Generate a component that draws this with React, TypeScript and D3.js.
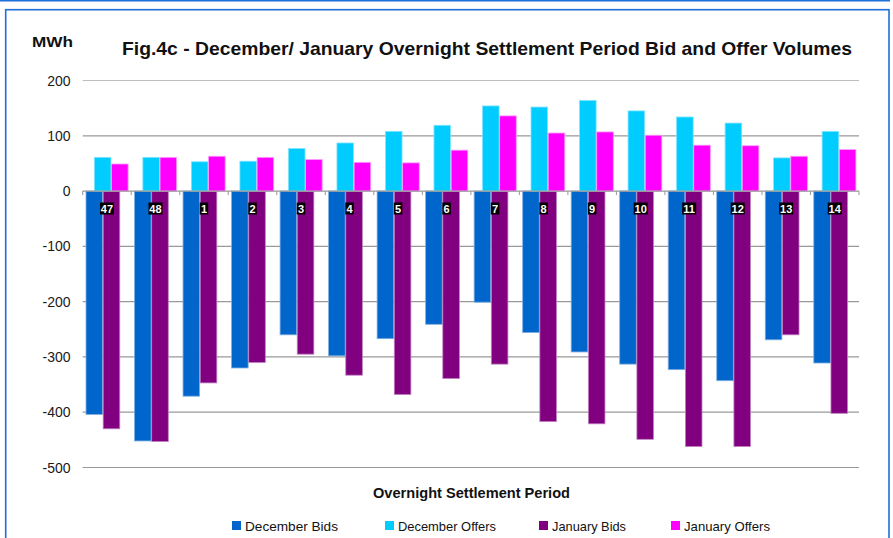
import React from "react";
import * as d3 from "d3";

const periods = ["47", "48", "1", "2", "3", "4", "5", "6", "7", "8", "9", "10", "11", "12", "13", "14"];
const decemberBids = [-404, -452, -371, -320, -260, -298, -267, -241, -201, -256, -291, -313, -323, -343, -269, -311];
const decemberOffers = [61, 61, 53, 54, 77, 87, 108, 119, 154, 152, 164, 145, 134, 123, 60, 108];
const januaryBids = [-430, -453, -347, -310, -295, -333, -368, -339, -313, -417, -421, -449, -462, -462, -260, -402];
const januaryOffers = [49, 61, 63, 61, 57, 52, 51, 74, 136, 105, 107, 101, 83, 82, 63, 75];
const yTicks = [200, 100, 0, -100, -200, -300, -400, -500];

const seriesNames = ["December Bids", "December Offers", "January Bids", "January Offers"];
const seriesColors = ["#0066CC", "#00CCFF", "#800080", "#FF00FF"];
const seriesStrokes = ["#7FAEE0", "#80E4FF", "#C080C0", "#FF9CFF"];

const W = 893;
const H = 538;
const FONT = "'Liberation Sans', Arial, Helvetica, sans-serif";

export default function App() {
  const x = d3.scaleBand<string>().domain(periods).range([82.7, 859]).padding(0);
  const y = d3.scaleLinear().domain([-500, 200]).range([467.5, 80.5]);
  const bw = x.bandwidth();
  const barW = bw * 0.342;
  const bidStart = bw * 0.068;
  const offerStart = bw * 0.24;
  const gap = bw * 0.012;

  const groups = [
    { data: decemberBids, start: bidStart, idx: 0 },
    { data: januaryBids, start: bidStart + barW + gap, idx: 2 },
    { data: decemberOffers, start: offerStart, idx: 1 },
    { data: januaryOffers, start: offerStart + barW + gap, idx: 3 },
  ];

  const legendX = [232, 385, 539, 671];
  const legendTextW = [93, 98, 74, 86];

  return (
    <svg width={W} height={H} style={{ position: "absolute", left: 0, top: 0, background: "#fff" }} fontFamily={FONT}>
      <rect x={0} y={0} width={W} height={H} fill="#fff" />
      {/* frame */}
      <line x1={0} x2={890} y1={0.5} y2={0.5} stroke="#1E6FD9" strokeWidth={2} />
      <rect x={5.7} y={9.7} width={883.3} height={H} fill="none" stroke="#1E6FD9" strokeWidth={1.6} />

      {/* grid */}
      {yTicks.map((t) => (
        <g key={t}>
          {t !== 0 && (
            <line x1={82.7} x2={859} y1={y(t)} y2={y(t)} stroke={t === 200 ? "#BDBDBD" : "#999"} strokeWidth={1.2} />
          )}
          <text x={70.5} y={y(t)} dy="0.36em" textAnchor="end" fontSize={14} fill="#1a1a1a">
            {t}
          </text>
        </g>
      ))}

      {/* bars */}
      {groups.map((g) =>
        g.data.map((v, i) => {
          const x0 = (x(periods[i]) as number) + g.start;
          const top = y(Math.max(0, v));
          const bot = y(Math.min(0, v));
          return (
            <rect
              key={`${g.idx}-${i}`}
              x={x0}
              y={top}
              width={barW}
              height={bot - top}
              fill={seriesColors[g.idx]}
              stroke={seriesStrokes[g.idx]}
              strokeWidth={0.8}
            />
          );
        })
      )}

      {/* zero axis */}
      <line x1={82.7} x2={859} y1={y(0)} y2={y(0)} stroke="#999" strokeWidth={1.2} />
      {d3.range(periods.length + 1).map((i) => {
        const tx = 82.7 + i * bw;
        return <line key={i} x1={tx} x2={tx} y1={y(0)} y2={y(0) + 4} stroke="#999" strokeWidth={1} />;
      })}

      {/* category labels */}
      {periods.map((p) => {
        const cx = (x(p) as number) + bw / 2;
        const w = p.length === 1 ? 8.5 : 14;
        return (
          <g key={p}>
            <rect x={cx - w / 2} y={202.5} width={w} height={12} fill="#000" />
            <text x={cx} y={212.5} textAnchor="middle" fontSize={11} fontWeight="bold" fill="#fff">
              {p}
            </text>
          </g>
        );
      })}

      {/* titles */}
      <text x={32} y={47} fontSize={15} fontWeight="bold" fill="#111" textLength={41} lengthAdjust="spacingAndGlyphs">
        MWh
      </text>
      <text x={122} y={55} fontSize={18.5} fontWeight="bold" fill="#111" textLength={730} lengthAdjust="spacingAndGlyphs">
        Fig.4c - December/ January Overnight Settlement Period Bid and Offer Volumes
      </text>
      <text x={373} y={498} fontSize={14.5} fontWeight="bold" fill="#111" textLength={197} lengthAdjust="spacingAndGlyphs">
        Overnight Settlement Period
      </text>

      {/* legend */}
      {seriesNames.map((n, i) => (
        <g key={n}>
          <rect x={legendX[i]} y={521} width={9} height={9} fill={seriesColors[i]} />
          <text x={legendX[i] + 13} y={530.5} fontSize={13.5} fill="#111" textLength={legendTextW[i]} lengthAdjust="spacingAndGlyphs">
            {n}
          </text>
        </g>
      ))}
    </svg>
  );
}
